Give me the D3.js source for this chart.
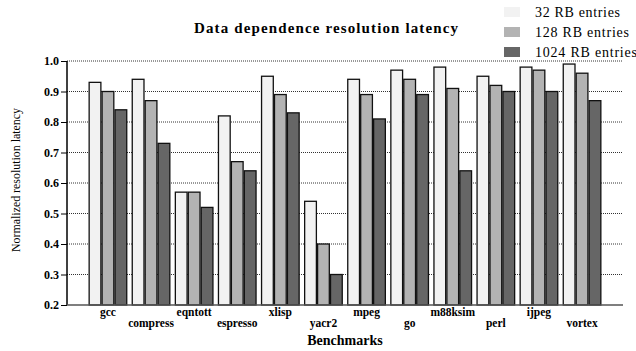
<!DOCTYPE html>
<html>
<head>
<meta charset="utf-8">
<script src="https://cdn.jsdelivr.net/npm/d3@7"></script>
<style>
  body { margin: 0; background: #fff; }
  svg { display: block; }
  svg text { font-family: "Liberation Serif", "Times New Roman", "DejaVu Serif", serif; fill: #000; }
</style>
</head>
<body>
<svg id="chart" width="636" height="351"></svg>
<script>
// benchmarks and normalized latency per RB size
const benchmarks = ["gcc", "compress", "eqntott", "espresso", "xlisp", "yacr2",
                    "mpeg", "go", "m88ksim", "perl", "ijpeg", "vortex"];
const seriesNames = ["32 RB entries", "128 RB entries", "1024 RB entries"];
const rb32   = [0.93, 0.94, 0.57, 0.82, 0.95, 0.54, 0.94, 0.97, 0.98, 0.95, 0.98, 0.99];
const rb128  = [0.90, 0.87, 0.57, 0.67, 0.89, 0.40, 0.89, 0.94, 0.91, 0.92, 0.97, 0.96];
const rb1024 = [0.84, 0.73, 0.52, 0.64, 0.83, 0.30, 0.81, 0.89, 0.64, 0.90, 0.90, 0.87];
const yTicks = [0.2, 0.3, 0.4, 0.5, 0.6, 0.7, 0.8, 0.9, 1.0];
const colors = ["#f2f2f2", "#b3b3b3", "#666666"];

const series = [rb32, rb128, rb1024];
const svg = d3.select("#chart");

const margin = { left: 67, right: 13, top: 61, bottom: 46 };
const width = 636 - margin.left - margin.right;
const height = 351 - margin.top - margin.bottom;

const g = svg.append("g").attr("transform", `translate(${margin.left},${margin.top})`);

const x = d3.scaleBand().domain(benchmarks).range([0, width])
  .paddingOuter(0.5).paddingInner(0.1);
const xs = d3.scaleBand().domain(d3.range(series.length)).range([0, x.bandwidth()]);
const y = d3.scaleLinear().domain([0.2, 1.0]).range([height, 0]);

// dotted grid lines
g.append("g").selectAll("line")
  .data(yTicks.slice(1))
  .join("line")
  .attr("x1", 0).attr("x2", width)
  .attr("y1", d => y(d)).attr("y2", d => y(d))
  .attr("stroke", "#333")
  .attr("stroke-width", 1)
  .attr("stroke-dasharray", "1,1");

// bars
const groups = g.append("g").selectAll("g")
  .data(benchmarks)
  .join("g")
  .attr("transform", d => `translate(${x(d)},0)`);

groups.selectAll("rect")
  .data((d, i) => series.map((s, k) => ({ k, v: s[i] })))
  .join("rect")
  .attr("x", d => xs(d.k) + 0.6)
  .attr("width", xs.bandwidth() - 1.2)
  .attr("y", d => y(d.v))
  .attr("height", d => y(0.2) - y(d.v))
  .attr("fill", d => colors[d.k])
  .attr("stroke", "#111")
  .attr("stroke-width", 1.3);

// y axis
const yAxis = g.append("g")
  .call(d3.axisLeft(y).tickValues(yTicks).tickFormat(d3.format(".1f")).tickSize(6).tickPadding(2));
yAxis.attr("font-family", null).attr("font-size", null);
yAxis.select(".domain").attr("stroke", "#000").attr("stroke-width", 1.5).attr("d", `M0,${height}V0`);
yAxis.selectAll("text").attr("font-size", 12).attr("font-weight", "bold");

// baseline
g.append("line")
  .attr("x1", 0).attr("x2", width)
  .attr("y1", height).attr("y2", height)
  .attr("stroke", "#555").attr("stroke-width", 1.5);

// x labels, staggered
g.append("g").selectAll("text")
  .data(benchmarks)
  .join("text")
  .attr("x", d => x(d) + x.bandwidth() / 2)
  .attr("y", (d, i) => height + (i % 2 === 0 ? 11 : 22))
  .attr("text-anchor", "middle")
  .attr("font-size", 11.5)
  .attr("font-weight", "bold")
  .text(d => d);

// titles
svg.append("text")
  .attr("x", 326).attr("y", 33)
  .attr("text-anchor", "middle")
  .attr("font-size", 15)
  .attr("font-weight", "bold")
  .attr("textLength", 264)
  .attr("lengthAdjust", "spacing")
  .text("Data dependence resolution latency");

svg.append("text")
  .attr("x", 345).attr("y", 345)
  .attr("text-anchor", "middle")
  .attr("font-size", 14)
  .attr("font-weight", "bold")
  .text("Benchmarks");

svg.append("text")
  .attr("transform", "translate(20,180) rotate(-90)")
  .attr("text-anchor", "middle")
  .attr("font-size", 12)
  .attr("textLength", 144)
  .attr("lengthAdjust", "spacingAndGlyphs")
  .text("Normalized resolution latency");

// legend
const legendWidths = [85, 94, 102];
const legend = svg.append("g").attr("transform", "translate(504,7)");
const li = legend.selectAll("g")
  .data(seriesNames)
  .join("g")
  .attr("transform", (d, i) => `translate(0,${i * 20})`);
li.append("rect")
  .attr("width", 16).attr("height", 10)
  .attr("fill", (d, i) => colors[i]);
li.append("text")
  .attr("x", 31).attr("y", 9.5)
  .attr("font-size", 14)
  .attr("textLength", (d, i) => legendWidths[i])
  .attr("lengthAdjust", "spacing")
  .text(d => d);
</script>
</body>
</html>
